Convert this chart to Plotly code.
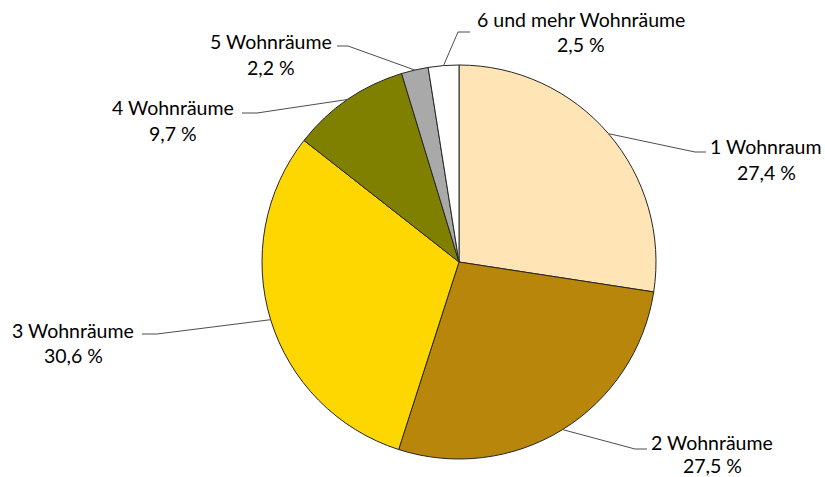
import math
import plotly.graph_objects as go

# ---- data ----
categories = ["1 Wohnraum", "2 Wohnräume", "3 Wohnräume", "4 Wohnräume",
              "5 Wohnräume", "6 und mehr Wohnräume"]
shares = [27.4, 27.5, 30.6, 9.7, 2.2, 2.5]
colors = ["#FFE4B5", "#B8860B", "#FFD700", "#808000", "#A9A9A9", "#FFFFFF"]

# ---- layout constants (pixels) ----
W, H = 825, 477
CX, CY, R = 459, 262, 197
FONT = "Lato"
FSIZE = 19.5

# label placement: text centre x, name line y, percent line y, elbow (x,y), horizontal end x
label_pos = [
    (766, 147, 172, 695, 152, 706),
    (712, 442, 465, 635, 449, 647),
    (73, 330, 355, 157, 334, 142),
    (173, 108, 133, 257, 113, 242),
    (271, 41, 67, 348, 46, 337),
    (581, 19, 45, 458, 32, 470),
]


def px(x):
    return x / W


def py(y):
    return 1 - y / H


fig = go.Figure(go.Pie(
    labels=categories,
    values=shares,
    sort=False,
    direction="clockwise",
    rotation=0,
    textinfo="none",
    hoverinfo="label+percent",
    marker=dict(colors=colors, line=dict(color="#262626", width=1)),
    domain=dict(x=[px(CX - R), px(CX + R)], y=[py(CY + R), py(CY - R)]),
    showlegend=False,
))

annotations = []
shapes = []
total = sum(shares)
cum = 0.0
for name, val, pos in zip(categories, shares, label_pos):
    mid = (cum + val / 2) / total * 2 * math.pi
    cum += val
    ex = CX + R * math.sin(mid)
    ey = CY - R * math.cos(mid)
    tx, ny, pyy, elx, ely, hx = pos
    path = f"M {px(ex)} {py(ey)} L {px(elx)} {py(ely)} L {px(hx)} {py(ely)}"
    shapes.append(dict(type="path", xref="paper", yref="paper", path=path,
                       line=dict(color="#4d4d4d", width=1)))
    pct = f"{val:.1f}".replace(".", ",") + " %"
    for txt, yy in ((name, ny), (pct, pyy)):
        annotations.append(dict(
            x=px(tx), y=py(yy), xref="paper", yref="paper",
            text=txt, showarrow=False, xanchor="center", yanchor="middle",
            font=dict(family=FONT, size=FSIZE, color="#000000"),
        ))

fig.update_layout(
    width=W, height=H,
    margin=dict(l=0, r=0, t=0, b=0),
    paper_bgcolor="white", plot_bgcolor="white",
    annotations=annotations, shapes=shapes,
)

fig.write_html("out.html",
               config={"displayModeBar": False},
               post_script="document.body.style.margin='0';document.body.style.overflow='hidden';")
